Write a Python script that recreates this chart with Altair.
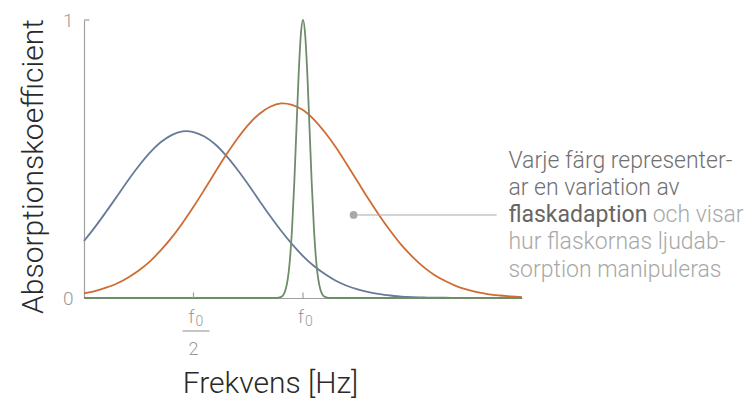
import altair as alt
import pandas as pd

FONT = "Roboto"

# frequency grid (units of f0) for the two broad curves
x_grid = [0.00, 0.05, 0.10, 0.15, 0.20, 0.25, 0.30, 0.35, 0.40, 0.45,
          0.50, 0.55, 0.60, 0.65, 0.70, 0.75, 0.80, 0.85, 0.90, 0.95,
          1.00, 1.05, 1.10, 1.15, 1.20, 1.25, 1.30, 1.35, 1.40, 1.45,
          1.50, 1.55, 1.60, 1.65, 1.70, 1.75, 1.80, 1.85, 1.90, 1.95, 2.00]
blue_y = [0.205, 0.255, 0.309, 0.365, 0.422, 0.475, 0.522, 0.560, 0.586, 0.599,
          0.597, 0.581, 0.552, 0.511, 0.462, 0.408, 0.351, 0.295, 0.242, 0.194,
          0.151, 0.115, 0.086, 0.062, 0.044, 0.031, 0.021, 0.014, 0.009, 0.005,
          0.003, 0.002, 0.001, 0.001, 0.0, 0.0, 0.0, 0.0, 0.0, 0.0, 0.0]
orange_y = [0.017, 0.025, 0.037, 0.052, 0.073, 0.099, 0.131, 0.171, 0.217, 0.270,
            0.328, 0.390, 0.454, 0.516, 0.573, 0.623, 0.662, 0.688, 0.700, 0.695,
            0.676, 0.642, 0.596, 0.542, 0.481, 0.418, 0.355, 0.295, 0.240, 0.190,
            0.148, 0.112, 0.083, 0.061, 0.043, 0.030, 0.020, 0.013, 0.009, 0.006, 0.003]
green_x = [0.00, 0.85, 0.88, 0.90, 0.91, 0.92, 0.93, 0.94, 0.95, 0.96, 0.97, 0.98, 0.99,
           1.00, 1.01, 1.02, 1.03, 1.04, 1.05, 1.06, 1.07, 1.08, 1.09, 1.10, 1.12, 1.15, 2.00]
green_y = [0.0, 0.0, 0.0, 0.004, 0.011, 0.029, 0.066, 0.135, 0.249, 0.411, 0.607, 0.801, 0.946,
           1.0, 0.946, 0.801, 0.607, 0.411, 0.249, 0.135, 0.066, 0.029, 0.011, 0.004, 0.0, 0.0, 0.0]

series_names = ["blue", "orange", "green"]
series_colors = ["#677a98", "#cf6c33", "#6f8c6b"]
series_interp = ["catmull-rom", "catmull-rom", "monotone"]

tick_values = [0.5, 1.0]

# annotation
dot_f, dot_a = 1.231, 0.2986
line_end_f = 1.884
text_f = 1.938
ann_lines = ["Varje färg represent\u00ader-", "ar en variation av", "flaskadaption",
             "hur flaskornas ljudab-", "sorption manipuleras"]
ann_a = [0.466, 0.369, 0.272, 0.175, 0.077]
ann_colors = ["#707070", "#707070", "#666666", "#a8a8a8", "#a8a8a8"]
ann_weights = [300, 300, 400, 300, 300]
tail_text = "och visar"
tail_f = 3.012

rows = []
for x, y in zip(x_grid, blue_y):
    rows.append({"f": x, "a": y, "s": "blue"})
for x, y in zip(x_grid, orange_y):
    rows.append({"f": x, "a": y, "s": "orange"})
for x, y in zip(green_x, green_y):
    rows.append({"f": x, "a": y, "s": "green"})
curves = pd.DataFrame(rows)

xs = alt.X("f:Q", scale=alt.Scale(domain=[0, 2], nice=False, zero=False),
           axis=alt.Axis(title="Frekvens [Hz]", labels=False, ticks=False, grid=False,
                         domainColor="#a0a0a0", domainWidth=1.2,
                         titleX=186, titleY=94, titleAlign="center", titleBaseline="alphabetic",
                         titleFont=FONT, titleFontSize=30, titleFontWeight=300, titleColor="#2a2a2a"))
ys = alt.Y("a:Q", scale=alt.Scale(domain=[0, 1], nice=False),
           axis=alt.Axis(title="Absorptionskoefficient", values=[0, 1], format="d", ticks=False,
                         tickSize=0, grid=False, labelPadding=11, labelFlush=False,
                         labelFont=FONT, labelFontSize=19, labelFontWeight=300, labelColor="#9a9a9a",
                         domainColor="#a0a0a0", domainWidth=1.2,
                         titleX=-42, titleY=146, titleAngle=270, titleAlign="center",
                         titleBaseline="alphabetic", titleFont=FONT, titleFontSize=30,
                         titleFontWeight=300, titleColor="#2a2a2a"))

lines = alt.layer(*[
    alt.Chart(curves[curves.s == n]).mark_line(interpolate=ip, strokeWidth=1.8, color=c).encode(x=xs, y=ys)
    for n, c, ip in zip(series_names, series_colors, series_interp)
])

ticks_df = pd.DataFrame({"f": tick_values, "a": [0.0, 0.0], "a2": [0.02, 0.02]})
xticks = alt.Chart(ticks_df).mark_rule(color="#a0a0a0", strokeWidth=1.2).encode(
    x=xs, y=ys, y2="a2:Q")
ytick_df = pd.DataFrame({"f": [0.0], "f2": [0.025], "a": [1.0]})
ytick = alt.Chart(ytick_df).mark_rule(color="#a0a0a0", strokeWidth=1.2).encode(
    x=xs, x2="f2:Q", y=ys)

lab_df = pd.DataFrame({"f": tick_values, "a": [0.0, 0.0]})
lab_f = alt.Chart(lab_df).mark_text(text="f", font=FONT, fontSize=18, fontWeight=300, color="#9a9a9a",
                                    align="left", baseline="alphabetic", dx=-5, dy=25).encode(x=xs, y=ys)
lab_0 = alt.Chart(lab_df).mark_text(text="0", font=FONT, fontSize=14, fontWeight=300, color="#9a9a9a",
                                    align="left", baseline="alphabetic", dx=2, dy=28).encode(x=xs, y=ys)
half_df = pd.DataFrame({"f": [0.5], "a": [0.0]})
frac_bar = alt.Chart(half_df).mark_rule(color="#a0a0a0", strokeWidth=1.2, xOffset=-11, x2Offset=16,
                                         yOffset=33).encode(x=xs, x2="f:Q", y=ys)
lab_2 = alt.Chart(half_df).mark_text(text="2", font=FONT, fontSize=18, fontWeight=300, color="#9a9a9a",
                                     align="center", baseline="alphabetic", dx=0, dy=57).encode(x=xs, y=ys)

ann_rule_df = pd.DataFrame({"f": [dot_f], "f2": [line_end_f], "a": [dot_a]})
ann_rule = alt.Chart(ann_rule_df).mark_rule(color="#a8a8a8", strokeWidth=1).encode(x=xs, x2="f2:Q", y=ys)
ann_dot = alt.Chart(ann_rule_df).mark_circle(color="#a8a8a8", size=60, opacity=1).encode(x=xs, y=ys)

ann_layers = []
for t, a, c, w in zip(ann_lines, ann_a, ann_colors, ann_weights):
    d = pd.DataFrame({"f": [text_f], "a": [a], "t": [t]})
    ann_layers.append(alt.Chart(d).mark_text(font=FONT, fontSize=23, fontWeight=w, color=c,
                                             align="left", baseline="alphabetic").encode(x=xs, y=ys, text="t:N"))
tail_df = pd.DataFrame({"f": [tail_f], "a": [ann_a[2]], "t": [tail_text]})
ann_layers.append(alt.Chart(tail_df).mark_text(font=FONT, fontSize=23, fontWeight=300, color="#a8a8a8",
                                               align="right", baseline="alphabetic").encode(x=xs, y=ys, text="t:N"))

chart = alt.layer(lines, xticks, ytick, lab_f, lab_0, frac_bar, lab_2, ann_rule, ann_dot, *ann_layers).properties(
    width=438, height=278,
    autosize=alt.AutoSizeParams(type="none"),
    padding={"left": 76, "top": 12, "right": 226, "bottom": 100},
).configure_view(stroke=None)

chart.save("out.html", embed_options={"renderer": "svg", "actions": False})
